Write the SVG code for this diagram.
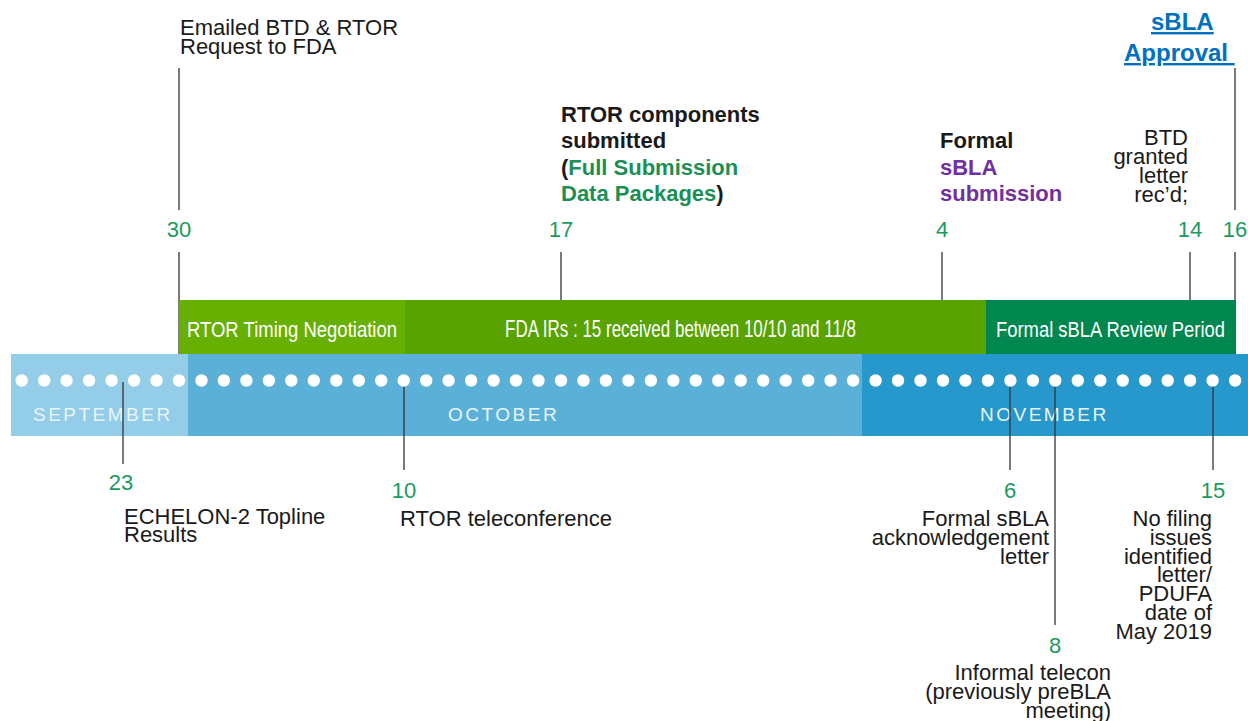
<svg xmlns="http://www.w3.org/2000/svg" width="1248" height="721" viewBox="0 0 1248 721">
<defs>
<style>
.t{font-family:"Liberation Sans",Arial,sans-serif;font-size:22px;fill:#1a1a1a}
.b{font-weight:bold}
.num{font-family:"Liberation Sans",Arial,sans-serif;font-size:22px;fill:#1b9a5e;text-anchor:middle}
.end{text-anchor:end}
.mon{font-family:"Liberation Sans",Arial,sans-serif;font-size:19px;letter-spacing:2.5px;fill:#e8f4fb}
.bar{font-family:"Liberation Sans",Arial,sans-serif;font-size:22px;fill:#ffffff}
.ln{stroke:#333333;stroke-width:1.3;fill:none}
.dot{fill:#ffffff}
.grn{fill:#1b8f55}
.pur{fill:#7030a0}
</style>
</defs>
<rect width="1248" height="721" fill="#ffffff"/>

<g id="connectors">
<line class="ln" x1="179" y1="68" x2="179" y2="210"/>
<line class="ln" x1="179" y1="252" x2="179" y2="378"/>
<line class="ln" x1="561" y1="252" x2="561" y2="378"/>
<line class="ln" x1="942" y1="252" x2="942" y2="378"/>
<line class="ln" x1="1190" y1="252" x2="1190" y2="378"/>
<line class="ln" x1="1235" y1="68" x2="1235" y2="210"/>
<line class="ln" x1="1235" y1="252" x2="1235" y2="378"/>
</g>

<g id="timeline-band">
<rect x="11" y="354" width="178" height="82" fill="#93cde8"/>
<rect x="188" y="354" width="674" height="82" fill="#5bb0d8"/>
<rect x="862" y="354" width="386" height="82" fill="#2798cc"/>
<text class="mon" x="33" y="421">SEPTEMBER</text>
<text class="mon" x="448" y="421">OCTOBER</text>
<text class="mon" x="980" y="421">NOVEMBER</text>
</g>

<g id="connectors-lower">
<line class="ln" x1="123" y1="382" x2="123" y2="464"/>
<line class="ln" x1="404" y1="382" x2="404" y2="470"/>
<line class="ln" x1="1010" y1="382" x2="1010" y2="470"/>
<line class="ln" x1="1055" y1="382" x2="1055" y2="625"/>
<line class="ln" x1="1213" y1="382" x2="1213" y2="470"/>
</g>

<g id="dots">
<circle class="dot" cx="21.7" cy="380.5" r="6.2"/>
<circle class="dot" cx="44.2" cy="380.5" r="6.2"/>
<circle class="dot" cx="66.6" cy="380.5" r="6.2"/>
<circle class="dot" cx="89.1" cy="380.5" r="6.2"/>
<circle class="dot" cx="111.6" cy="380.5" r="6.2"/>
<circle class="dot" cx="134.1" cy="380.5" r="6.2"/>
<circle class="dot" cx="156.5" cy="380.5" r="6.2"/>
<circle class="dot" cx="179.0" cy="380.5" r="6.2"/>
<circle class="dot" cx="201.5" cy="380.5" r="6.2"/>
<circle class="dot" cx="223.9" cy="380.5" r="6.2"/>
<circle class="dot" cx="246.4" cy="380.5" r="6.2"/>
<circle class="dot" cx="268.9" cy="380.5" r="6.2"/>
<circle class="dot" cx="291.3" cy="380.5" r="6.2"/>
<circle class="dot" cx="313.8" cy="380.5" r="6.2"/>
<circle class="dot" cx="336.3" cy="380.5" r="6.2"/>
<circle class="dot" cx="358.8" cy="380.5" r="6.2"/>
<circle class="dot" cx="381.2" cy="380.5" r="6.2"/>
<circle class="dot" cx="403.7" cy="380.5" r="6.2"/>
<circle class="dot" cx="426.2" cy="380.5" r="6.2"/>
<circle class="dot" cx="448.6" cy="380.5" r="6.2"/>
<circle class="dot" cx="471.1" cy="380.5" r="6.2"/>
<circle class="dot" cx="493.6" cy="380.5" r="6.2"/>
<circle class="dot" cx="516.0" cy="380.5" r="6.2"/>
<circle class="dot" cx="538.5" cy="380.5" r="6.2"/>
<circle class="dot" cx="561.0" cy="380.5" r="6.2"/>
<circle class="dot" cx="583.5" cy="380.5" r="6.2"/>
<circle class="dot" cx="605.9" cy="380.5" r="6.2"/>
<circle class="dot" cx="628.4" cy="380.5" r="6.2"/>
<circle class="dot" cx="650.9" cy="380.5" r="6.2"/>
<circle class="dot" cx="673.3" cy="380.5" r="6.2"/>
<circle class="dot" cx="695.8" cy="380.5" r="6.2"/>
<circle class="dot" cx="718.3" cy="380.5" r="6.2"/>
<circle class="dot" cx="740.7" cy="380.5" r="6.2"/>
<circle class="dot" cx="763.2" cy="380.5" r="6.2"/>
<circle class="dot" cx="785.7" cy="380.5" r="6.2"/>
<circle class="dot" cx="808.2" cy="380.5" r="6.2"/>
<circle class="dot" cx="830.6" cy="380.5" r="6.2"/>
<circle class="dot" cx="853.1" cy="380.5" r="6.2"/>
<circle class="dot" cx="875.6" cy="380.5" r="6.2"/>
<circle class="dot" cx="898.0" cy="380.5" r="6.2"/>
<circle class="dot" cx="920.5" cy="380.5" r="6.2"/>
<circle class="dot" cx="943.0" cy="380.5" r="6.2"/>
<circle class="dot" cx="965.4" cy="380.5" r="6.2"/>
<circle class="dot" cx="987.9" cy="380.5" r="6.2"/>
<circle class="dot" cx="1010.4" cy="380.5" r="6.2"/>
<circle class="dot" cx="1032.9" cy="380.5" r="6.2"/>
<circle class="dot" cx="1055.3" cy="380.5" r="6.2"/>
<circle class="dot" cx="1077.8" cy="380.5" r="6.2"/>
<circle class="dot" cx="1100.3" cy="380.5" r="6.2"/>
<circle class="dot" cx="1122.7" cy="380.5" r="6.2"/>
<circle class="dot" cx="1145.2" cy="380.5" r="6.2"/>
<circle class="dot" cx="1167.7" cy="380.5" r="6.2"/>
<circle class="dot" cx="1190.1" cy="380.5" r="6.2"/>
<circle class="dot" cx="1212.6" cy="380.5" r="6.2"/>
<circle class="dot" cx="1235.1" cy="380.5" r="6.2"/>
</g>

<g id="bar-rtor-timing">
<rect x="179" y="300" width="226" height="54" fill="#67af00"/>
<text class="bar" x="187" y="337" textLength="210" lengthAdjust="spacingAndGlyphs">RTOR Timing Negotiation</text>
</g>
<g id="bar-fda-irs">
<rect x="405" y="300" width="581" height="54" fill="#58a300"/>
<text class="bar" x="505" y="337" style="font-size:24px" textLength="351" lengthAdjust="spacingAndGlyphs">FDA IRs : 15 received between 10/10 and 11/8</text>
</g>
<g id="bar-review">
<rect x="986" y="300" width="250" height="54" fill="#00874f"/>
<text class="bar" x="996" y="337" textLength="229" lengthAdjust="spacingAndGlyphs">Formal sBLA Review Period</text>
</g>

<g id="ev-sep30">
<text class="t" x="180" y="35">Emailed BTD &amp; RTOR</text>
<text class="t" x="180" y="54">Request to FDA</text>
<text class="num" x="179" y="237">30</text>
</g>
<g id="ev-oct17">
<text class="t b" x="561" y="122">RTOR components</text>
<text class="t b" x="561" y="148">submitted</text>
<text class="t b" x="561" y="175">(<tspan class="grn">Full Submission</tspan></text>
<text class="t b" x="561" y="201"><tspan class="grn">Data Packages</tspan>)</text>
<text class="num" x="561" y="237">17</text>
</g>
<g id="ev-nov4">
<text class="t b" x="940" y="148">Formal</text>
<text class="t b pur" x="940" y="175">sBLA</text>
<text class="t b pur" x="940" y="201">submission</text>
<text class="num" x="942" y="237">4</text>
</g>
<g id="ev-nov14">
<text class="t end" x="1188" y="145">BTD</text>
<text class="t end" x="1188" y="164">granted</text>
<text class="t end" x="1188" y="183">letter</text>
<text class="t end" x="1188" y="202">rec’d;</text>
<text class="num" x="1190" y="237">14</text>
</g>
<g id="ev-nov16">
<text class="t b" x="1151" y="30" style="font-size:24px;fill:#0070c0;text-decoration:underline">sBLA</text>
<text class="t b" x="1124" y="61" style="font-size:24px;fill:#0070c0;text-decoration:underline;white-space:pre">Approval </text>
<text class="num" x="1235" y="237">16</text>
</g>

<g id="ev-sep23">
<text class="num" x="121" y="490">23</text>
<text class="t" x="124" y="524">ECHELON-2 Topline</text>
<text class="t" x="124" y="542">Results</text>
</g>
<g id="ev-oct10">
<text class="num" x="404" y="498">10</text>
<text class="t" x="400" y="526">RTOR teleconference</text>
</g>
<g id="ev-nov6">
<text class="num" x="1010" y="498">6</text>
<text class="t end" x="1049" y="526">Formal sBLA</text>
<text class="t end" x="1049" y="545">acknowledgement</text>
<text class="t end" x="1049" y="564">letter</text>
</g>
<g id="ev-nov8">
<text class="num" x="1055" y="653">8</text>
<text class="t end" x="1111" y="680">Informal telecon</text>
<text class="t end" x="1111" y="699">(previously preBLA</text>
<text class="t end" x="1111" y="718">meeting)</text>
</g>
<g id="ev-nov15">
<text class="num" x="1213" y="498">15</text>
<text class="t end" x="1212" y="526">No filing</text>
<text class="t end" x="1212" y="544.8">issues</text>
<text class="t end" x="1212" y="563.6">identified</text>
<text class="t end" x="1212" y="582.4">letter/</text>
<text class="t end" x="1212" y="601.2">PDUFA</text>
<text class="t end" x="1212" y="620">date of</text>
<text class="t end" x="1212" y="638.8">May 2019</text>
</g>
</svg>
